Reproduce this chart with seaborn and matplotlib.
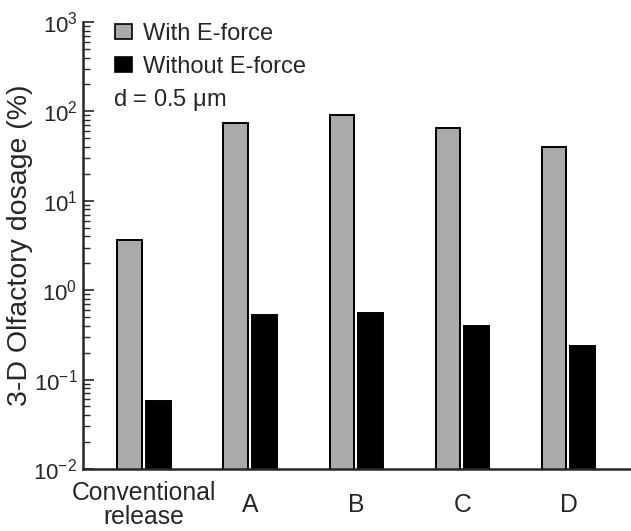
import numpy as np
import pandas as pd
import seaborn as sns
from matplotlib import pyplot as plt
from matplotlib.patches import Patch
from matplotlib.ticker import LogLocator, NullFormatter

#%% # data

groups = ['Conventional\nrelease', 'A', 'B', 'C', 'D']
with_force = [3.6, 74, 91, 65, 40]
without_force = [0.058, 0.53, 0.56, 0.40, 0.235]

df = pd.DataFrame({
    'group': groups * 2,
    'case': ['With E-force'] * 5 + ['Without E-force'] * 5,
    'dose': with_force + without_force,
})

#%% # plot

sns.set_style('ticks')
plt.rcParams['font.family'] = ['Liberation Sans', 'DejaVu Sans']
plt.rcParams['mathtext.fontset'] = 'custom'
plt.rcParams['mathtext.rm'] = 'Liberation Sans'
plt.rcParams['mathtext.it'] = 'Liberation Sans:italic'

fig = plt.figure(figsize=(6.31, 5.31), dpi=100)
ax = fig.add_axes([0.1315, 0.1168, 0.8685, 0.8418])

pal = {'With E-force': '#aaaaaa', 'Without E-force': 'black'}
sns.barplot(data=df, x='group', y='dose', hue='case', palette=pal,
            width=0.54, gap=0.14, edgecolor='black', linewidth=1.4,
            legend=False, ax=ax, saturation=1)
ax.set_yscale('log')

ax.set_ylim(1e-2, 1e3)
ax.set_xlim(-0.575, 4.59)
ax.yaxis.set_major_locator(LogLocator(base=10, numticks=10))
ax.yaxis.set_minor_locator(LogLocator(base=10, subs=np.arange(2, 10), numticks=20))
ax.yaxis.set_minor_formatter(NullFormatter())
ax.tick_params(axis='y', which='major', direction='in', length=8, width=1.2, labelsize=16, pad=4)
ax.tick_params(axis='y', which='minor', direction='in', length=5, width=1)
ax.tick_params(axis='x', length=0, labelsize=17.8, pad=26)
for lab in ax.get_xticklabels():
    lab.set_verticalalignment('center')
    lab.set_linespacing(1.0)

for s in ['top', 'right']:
    ax.spines[s].set_visible(False)
for s in ['left', 'bottom']:
    ax.spines[s].set_linewidth(1.8)

ax.set_xlabel('')
ax.set_ylabel('3-D Olfactory dosage (%)', fontsize=20.5, labelpad=0)

handles = [Patch(facecolor=pal[k], edgecolor='black', linewidth=1.2) for k in pal]
ax.legend(handles, list(pal), loc='upper left', bbox_to_anchor=(0.019, 1.045),
          frameon=False, fontsize=17, handlelength=0.72, handleheight=0.6,
          handletextpad=0.47, labelspacing=0.45)
ax.text(0.055, 0.825, r'd = 0.5 $\mathrm{\mu}$m', transform=ax.transAxes,
        fontsize=17, va='center', ha='left')

plt.savefig('out.png', dpi=100)
